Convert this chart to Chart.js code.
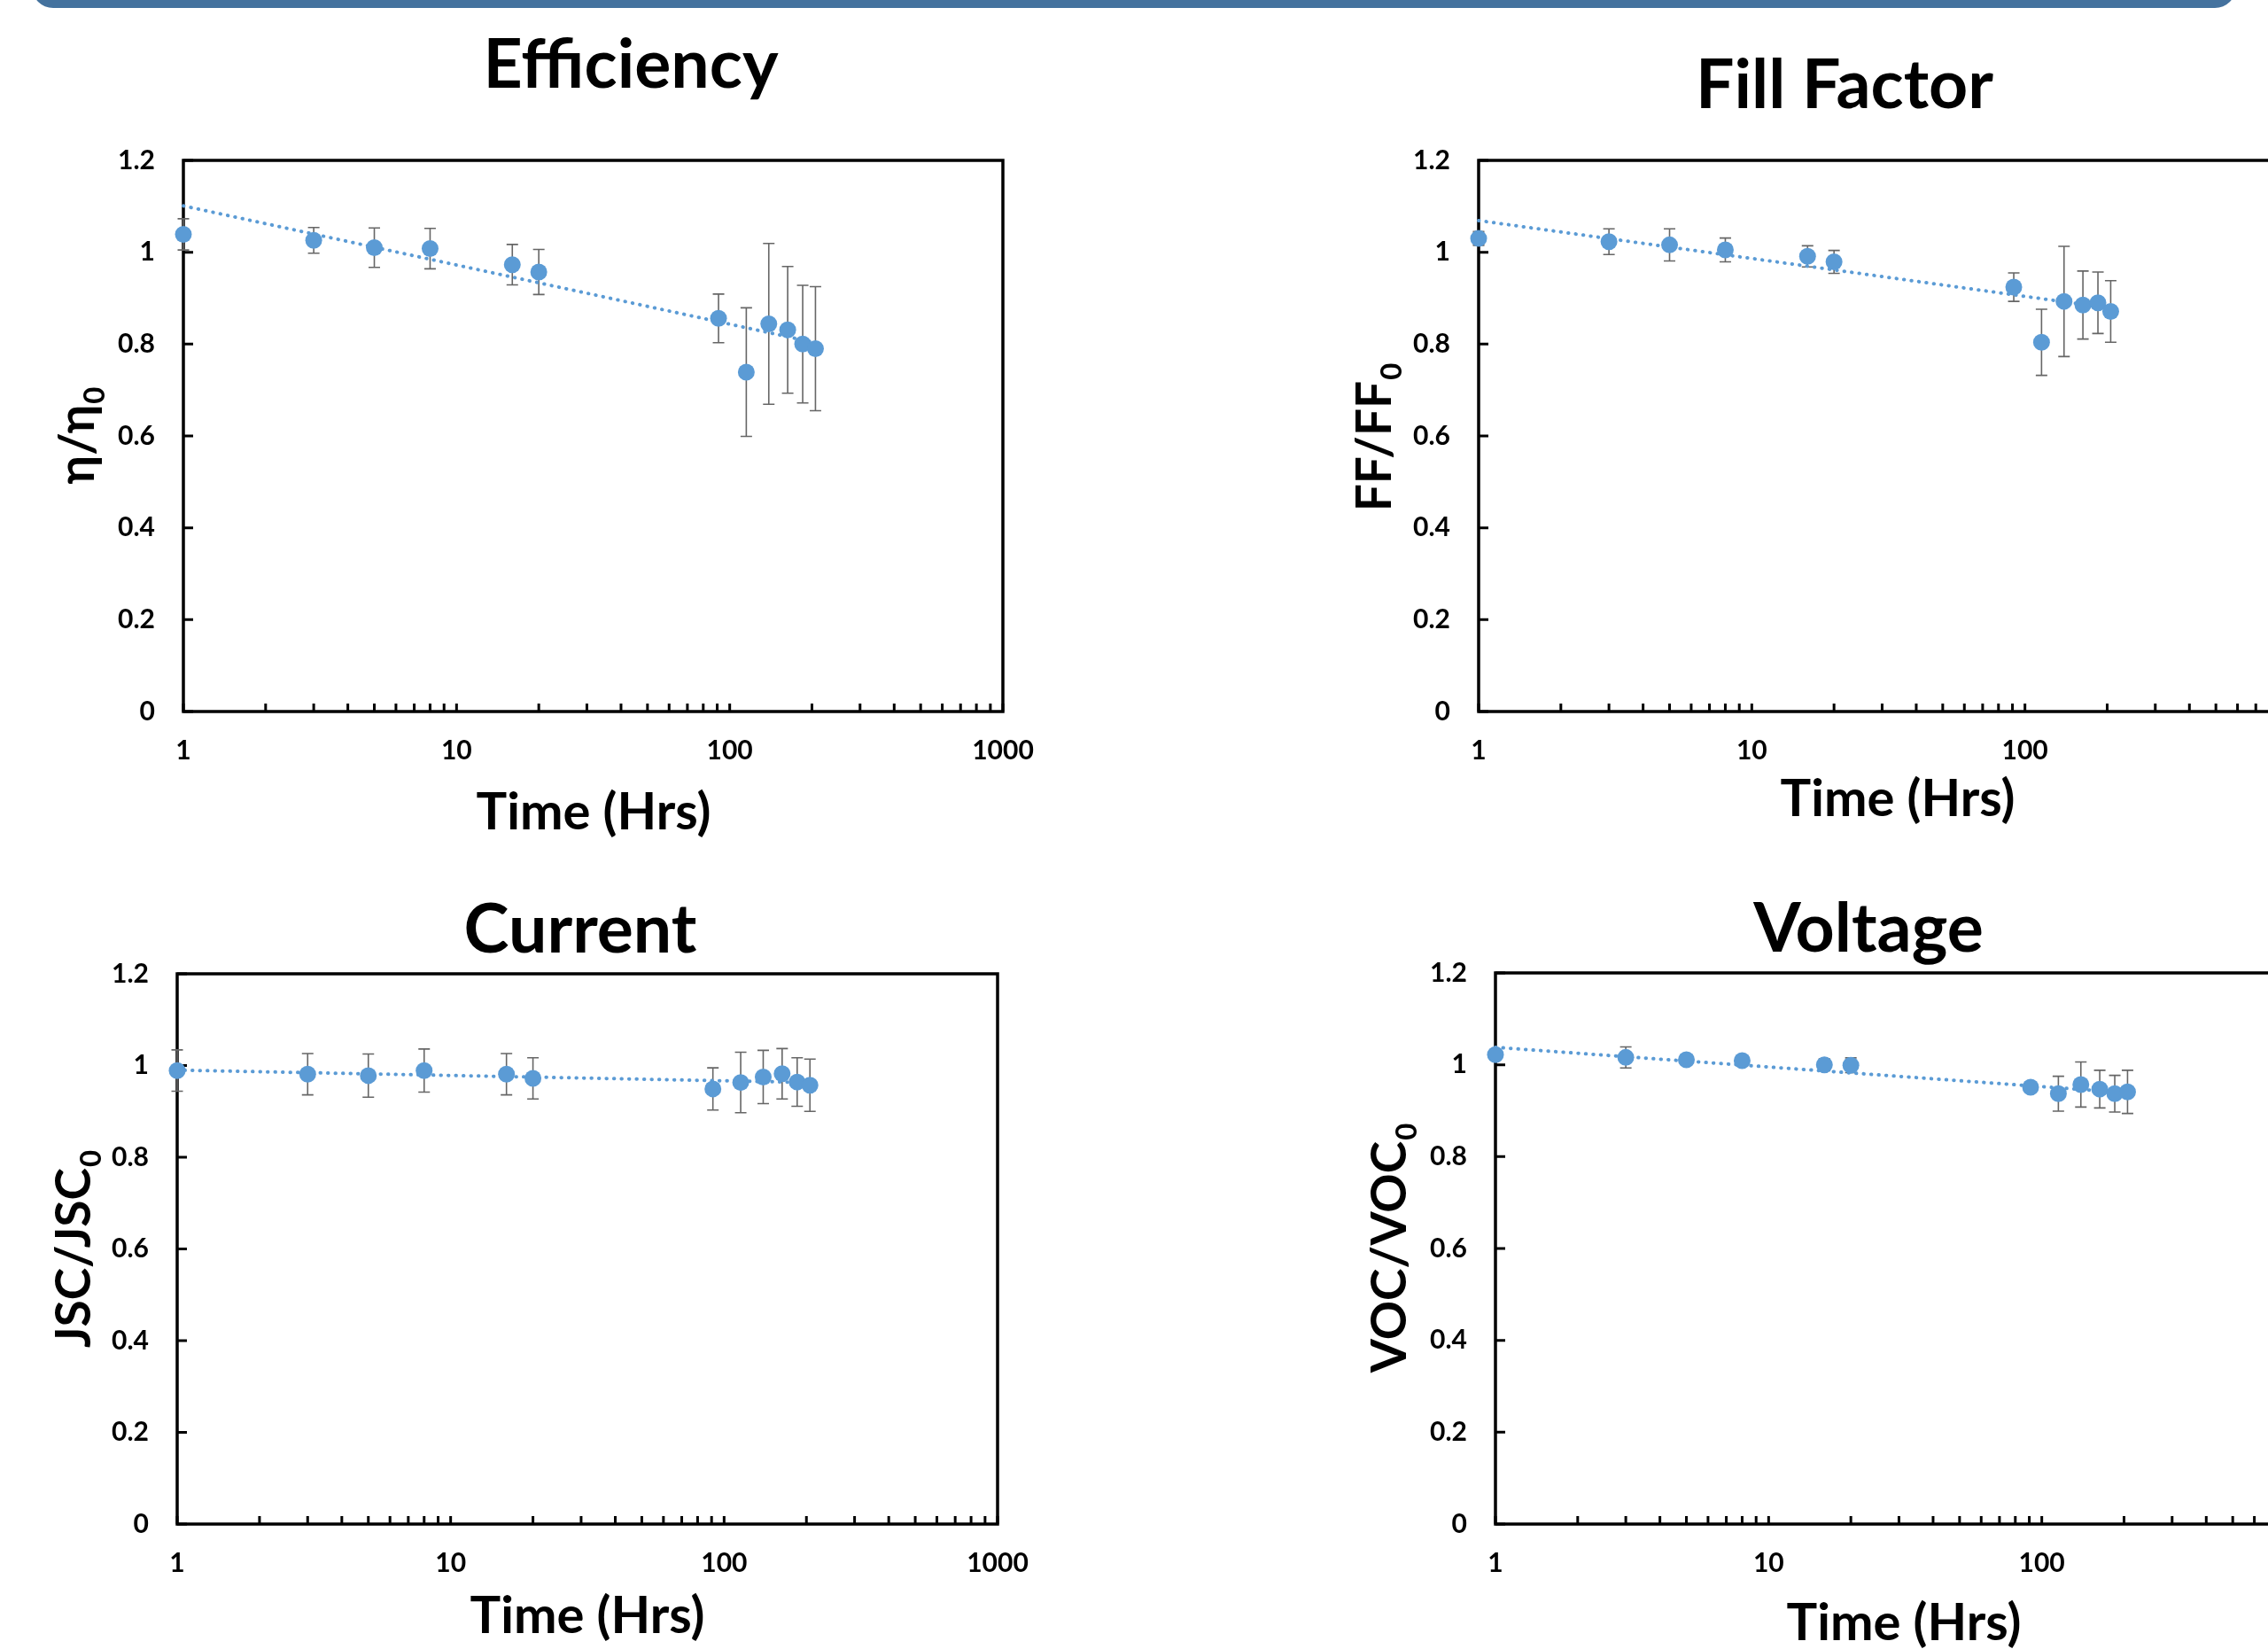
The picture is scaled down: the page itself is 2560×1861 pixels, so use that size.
<!DOCTYPE html>
<html>
<head>
<meta charset="utf-8">
<script src="https://cdn.jsdelivr.net/npm/chart.js@4.4.1/dist/chart.umd.min.js"></script>
<style>
  html, body { margin: 0; padding: 0; background: #fff; }
  body { position: relative; width: 2560px; height: 1861px; overflow: hidden; }
  .topbar { position: absolute; left: 36px; right: 36px; top: -41px; height: 50px; background: #44729e; border-radius: 24px; }
  canvas { position: absolute; }
</style>
</head>
<body>
<div class="topbar"></div>
<canvas id="effChart" width="1280" height="960" style="left:0px;top:0px"></canvas>
<canvas id="ffChart" width="1400" height="960" style="left:1290px;top:0px"></canvas>
<canvas id="jscChart" width="1280" height="901" style="left:0px;top:960px"></canvas>
<canvas id="vocChart" width="1400" height="901" style="left:1290px;top:960px"></canvas>
<script>
"use strict";

// Data
const hours = [1, 3, 5, 8, 16, 20, 91, 115, 139, 163, 185, 206];

const eff = [1.039, 1.026, 1.010, 1.008, 0.973, 0.957, 0.856, 0.739, 0.844, 0.831, 0.800, 0.790];
const effErr = [0.034, 0.028, 0.043, 0.044, 0.044, 0.049, 0.053, 0.140, 0.175, 0.138, 0.128, 0.135];

const ff = [1.030, 1.023, 1.016, 1.005, 0.991, 0.979, 0.924, 0.804, 0.893, 0.885, 0.890, 0.871];
const ffErr = [0.015, 0.028, 0.035, 0.026, 0.023, 0.025, 0.031, 0.072, 0.120, 0.074, 0.067, 0.067];

const jsc = [0.989, 0.981, 0.978, 0.989, 0.981, 0.972, 0.949, 0.963, 0.975, 0.982, 0.964, 0.957];
const jscErr = [0.045, 0.045, 0.047, 0.047, 0.045, 0.045, 0.046, 0.066, 0.058, 0.055, 0.053, 0.057];

const voc = [1.022, 1.016, 1.011, 1.009, 1.000, 0.999, 0.951, 0.937, 0.957, 0.947, 0.937, 0.941];
const vocErr = [0.005, 0.023, 0.005, 0.005, 0.013, 0.016, 0.006, 0.038, 0.049, 0.041, 0.040, 0.047];

// log trendline ends (straight on a log axis)
const trendX = [1, 206];
const effTrend = [1.101, 0.803];
const ffTrend = [1.069, 0.878];
const jscTrend = [0.990, 0.963];
const vocTrend = [1.038, 0.939];

// Axes
const xLabels = [1, 10, 100, 1000];
const xTicks = [];
for (let d = 1; d < 1000; d *= 10) {
  for (let k = 1; k < 10; k++) xTicks.push(k * d);
}
xTicks.push(1000);
const yTicks = [0, 0.2, 0.4, 0.6, 0.8, 1, 1.2];

const BLUE = "#5B9BD5";
const FONT = "Lato";

// frame, inside ticks, error bars and texts
const decoPlugin = {
  id: "deco",
  beforeDatasetsDraw(chart, args, opts) {
    const ctx = chart.ctx;
    const a = chart.chartArea;
    const xs = chart.scales.x;
    const ys = chart.scales.y;
    ctx.save();
    ctx.strokeStyle = "#000";
    ctx.lineWidth = 3.5;
    ctx.strokeRect(a.left, a.top, a.right - a.left, a.bottom - a.top);
    ctx.lineWidth = 3;
    ctx.beginPath();
    xTicks.forEach((v) => {
      const px = xs.getPixelForValue(v);
      ctx.moveTo(px, a.bottom);
      ctx.lineTo(px, a.bottom - 9);
    });
    yTicks.forEach((v) => {
      const py = ys.getPixelForValue(v);
      ctx.moveTo(a.left, py);
      ctx.lineTo(a.left + 11, py);
    });
    ctx.stroke();

    // error bars
    ctx.strokeStyle = "#666";
    ctx.lineWidth = 1.6;
    ctx.beginPath();
    opts.values.forEach((v, i) => {
      const px = xs.getPixelForValue(hours[i]);
      const top = ys.getPixelForValue(v + opts.errors[i]);
      const bot = ys.getPixelForValue(v - opts.errors[i]);
      ctx.moveTo(px, top);
      ctx.lineTo(px, bot);
      ctx.moveTo(px - 6.5, top);
      ctx.lineTo(px + 6.5, top);
      ctx.moveTo(px - 6.5, bot);
      ctx.lineTo(px + 6.5, bot);
    });
    ctx.stroke();
    ctx.restore();
  },
  afterDraw(chart, args, opts) {
    const ctx = chart.ctx;
    ctx.save();
    ctx.fillStyle = "#000";
    ctx.textBaseline = "alphabetic";

    ctx.textAlign = "center";
    ctx.font = "bold 77px " + FONT;
    ctx.fillText(opts.title, opts.titleX, opts.titleY);

    ctx.font = "bold 58px " + FONT;
    ctx.fillText("Time (Hrs)", opts.xTitleX, opts.xTitleY);

    // rotated y title with subscript 0
    ctx.translate(opts.yTitleX, opts.yTitleY);
    ctx.rotate(-Math.PI / 2);
    ctx.textAlign = "left";
    ctx.font = "bold 55px " + FONT;
    const w1 = ctx.measureText(opts.yLabel).width;
    ctx.font = "bold 33px " + FONT;
    const w2 = ctx.measureText("0").width;
    const start = -(w1 + w2) / 2;
    ctx.font = "bold 55px " + FONT;
    ctx.fillText(opts.yLabel, start, 0);
    ctx.font = "bold 33px " + FONT;
    ctx.fillText("0", start + w1 + 1, 12);
    ctx.restore();
  },
};

function makeChart(id, values, errors, trend, pad, deco) {
  const tickFont = { family: FONT, weight: "bold", size: 30 };
  return new Chart(document.getElementById(id), {
    type: "scatter",
    data: {
      datasets: [
        {
          data: hours.map((h, i) => ({ x: h, y: values[i] })),
          backgroundColor: BLUE,
          borderColor: BLUE,
          pointRadius: 9.5,
          pointBorderWidth: 0,
          showLine: false,
          clip: false,
        },
        {
          type: "line",
          data: trendX.map((h, i) => ({ x: h, y: trend[i] })),
          borderColor: BLUE,
          borderWidth: 4,
          borderDash: [0.5, 8],
          borderCapStyle: "round",
          pointRadius: 0,
          fill: false,
          clip: false,
        },
      ],
    },
    options: {
      responsive: false,
      animation: false,
      devicePixelRatio: 1,
      layout: { padding: pad },
      plugins: {
        legend: { display: false },
        tooltip: { enabled: false },
        deco: Object.assign({ values: values, errors: errors }, deco),
      },
      scales: {
        x: {
          type: "logarithmic",
          min: 1,
          max: 1000,
          afterBuildTicks: (s) => {
            s.ticks = xTicks.map((v) => ({ value: v }));
          },
          afterFit: (s) => {
            s.height = 80;
          },
          grid: { display: false, drawTicks: false },
          border: { display: false },
          ticks: {
            autoSkip: false,
            maxRotation: 0,
            padding: 26,
            color: "#000",
            font: tickFont,
            callback: (v) => (xLabels.includes(v) ? String(v) : ""),
          },
        },
        y: {
          min: 0,
          max: 1.2,
          afterBuildTicks: (s) => {
            s.ticks = yTicks.map((v) => ({ value: v }));
          },
          afterFit: (s) => {
            s.width = 100;
          },
          grid: { display: false, drawTicks: false },
          border: { display: false },
          ticks: {
            padding: 32,
            color: "#000",
            font: tickFont,
            callback: (v) => String(Number(v.toFixed(1))),
          },
        },
      },
    },
    plugins: [decoPlugin],
  });
}

function drawAll() {
  makeChart("effChart", eff, effErr, effTrend,
    { left: 107, top: 181, right: 148, bottom: 77 },
    { title: "Efficiency", titleX: 712, titleY: 99, xTitleX: 670, xTitleY: 936,
      yLabel: "\u03B7/\u03B7", yTitleX: 106, yTitleY: 492 });

  makeChart("ffChart", ff, ffErr, ffTrend,
    { left: 279, top: 181, right: 96, bottom: 77 },
    { title: "Fill Factor", titleX: 792, titleY: 122, xTitleX: 852, xTitleY: 921,
      yLabel: "FF/FF", yTitleX: 280, yTitleY: 494 });

  makeChart("jscChart", jsc, jscErr, jscTrend,
    { left: 100, top: 139, right: 154, bottom: 61 },
    { title: "Current", titleX: 655, titleY: 115, xTitleX: 663, xTitleY: 883,
      yLabel: "JSC/JSC", yTitleX: 102, yTitleY: 450 });

  makeChart("vocChart", voc, vocErr, vocTrend,
    { left: 298, top: 138, right: 77, bottom: 61 },
    { title: "Voltage", titleX: 819, titleY: 114, xTitleX: 859, xTitleY: 891,
      yLabel: "VOC/VOC", yTitleX: 297, yTitleY: 449 });
}

Promise.all([
  document.fonts.load("bold 30px Lato"),
  document.fonts.load("bold 77px Lato"),
]).then(drawAll, drawAll);
</script>
</body>
</html>
